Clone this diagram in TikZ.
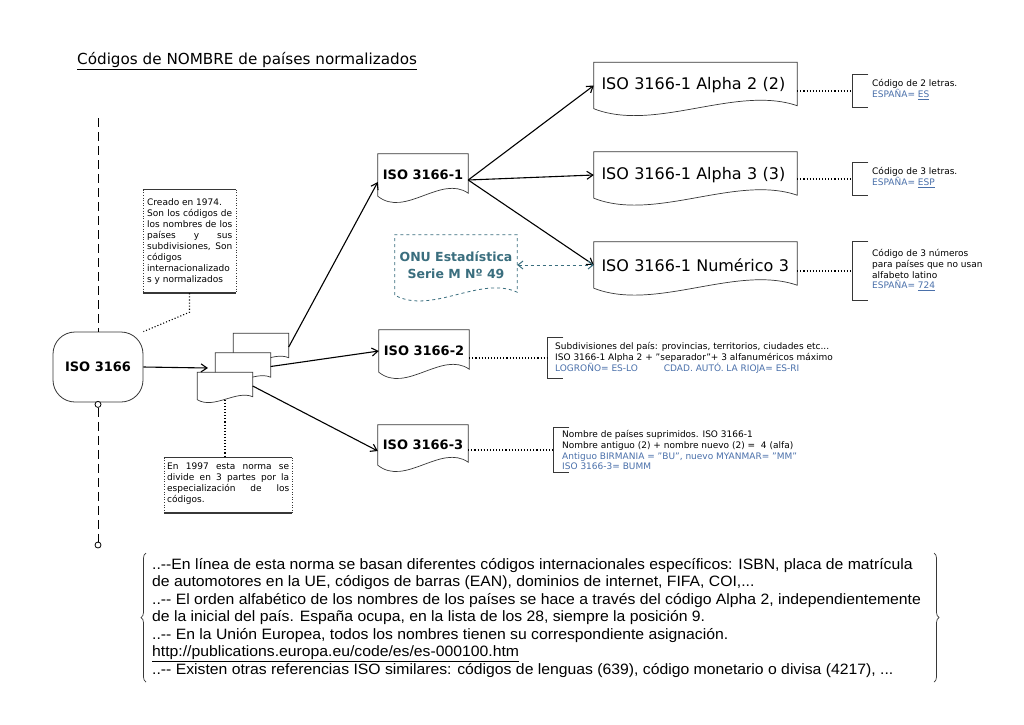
\documentclass[tikz,border=0pt]{standalone}
\usepackage{fontspec}
\setmainfont{DejaVu Sans}
\newfontfamily\bodyfont[FakeStretch=1.05]{Liberation Sans}
\usetikzlibrary{arrows.meta,calc,decorations.pathreplacing}
\definecolor{teal2}{RGB}{58,110,126}
\definecolor{linkblue}{RGB}{74,112,170}
\definecolor{edgegray}{RGB}{55,55,55}
\newcommand\docoutline[3]{%
  \draw[#2] (#1.south west) -- (#1.north west) -- (#1.north east) -- ($(#1.south east)+(0,-3)$)
    .. controls ($(#1.south east)!0.3!(#1.south west)+(0,-#3)$) and ($(#1.south east)!0.7!(#1.south west)+(0,#3)$) .. (#1.south west) -- cycle;}
\newcommand\jline[2]{\makebox[#1][s]{#2}}
\begin{document}
\begin{tikzpicture}[x=1pt,y=-1pt,
  docnode/.style={inner xsep=7.5pt, inner ysep=0pt, text width=188pt, align=left, minimum height=46pt, font=\fontsize{16}{18}\selectfont},
  isonode/.style={inner sep=0pt, minimum width=90pt, minimum height=42pt, font=\bfseries\fontsize{13}{15}\selectfont},
  stackdoc/.style={inner sep=0pt, minimum width=55pt, minimum height=27pt},
  conn/.style={line width=1.1pt, -{Straight Barb[length=6pt,width=8pt]}},
  outline/.style={draw=edgegray, line width=0.7pt},
  small/.style={font=\fontsize{9}{10.8}\selectfont, align=left, inner sep=0pt, anchor=north west},
  bracketnode/.style={minimum width=16pt, inner sep=0pt, anchor=west},
  bracketline/.style={draw=edgegray, line width=0.7pt},
  dotconn/.style={dotted, line width=1.1pt},
]
\useasboundingbox[fill=white] (0,0) rectangle (1024,724);

% title
\node[anchor=west, inner sep=0pt, font=\fontsize{15.2}{18}\selectfont] (title) at (77,61) {\underline{Códigos de NOMBRE de países normalizados}};

% main ISO 3166 node
\node[draw=edgegray, line width=0.8pt, rounded corners=22pt, minimum width=90pt, minimum height=70pt, inner sep=0pt, font=\bfseries\fontsize{13}{15}\selectfont] (iso) at (98,367) {ISO 3166};
\coordinate (topend) at (98,118);
\draw[line width=1pt, dash pattern=on 9pt off 5pt] (topend) -- (iso.north);
\node[circle, draw, line width=0.8pt, fill=white, minimum size=6pt, inner sep=0pt] (c1) at ([yshift=-2pt]iso.south) {};
\node[circle, draw, line width=0.8pt, fill=white, minimum size=6pt, inner sep=0pt] (c2) at (98,545) {};
\draw[line width=1pt, dash pattern=on 9pt off 5pt] (c1.south) -- (c2.north);

% stack of documents
\node[stackdoc] (b1) at (261,347) {};
\node[stackdoc] (b2) at (243,366.5) {};
\node[stackdoc] (b3) at (225,386) {};
\docoutline{b1}{outline, fill=white}{10}
\docoutline{b2}{outline, fill=white}{10}
\docoutline{b3}{outline, fill=white}{10}
\coordinate (stackin) at (208,368);
\draw[conn] (iso.east) -- (stackin);

% ISO 3166-x nodes
\node[isonode] (iso1) at (423,175) {ISO 3166-1};
\node[isonode] (iso2) at (424,351) {ISO 3166-2};
\node[isonode, minimum height=40pt] (iso3) at (423,445) {ISO 3166-3};
\docoutline{iso1}{outline}{22}
\docoutline{iso2}{outline}{22}
\docoutline{iso3}{outline}{22}

\draw[conn] (b1.east) -- ([yshift=-7pt]iso1.west);
\draw[conn] (b2.east) -- (iso2.west);
\draw[conn] (b3.east) -- ([yshift=-6pt]iso3.west);

% Alpha nodes
\node[docnode] (a2) at (695.5,85.5) {ISO 3166-1 Alpha 2 (2)};
\node[docnode] (a3) at (695.5,175) {ISO 3166-1 Alpha 3 (3)};
\node[docnode] (num) at (695.5,265) {ISO 3166-1 Numérico 3};
\docoutline{a2}{outline}{24}
\docoutline{a3}{outline}{24}
\docoutline{num}{outline}{24}
\draw[conn] ([yshift=-5pt]iso1.east) -- (a2.west);
\draw[conn] ([yshift=-5pt]iso1.east) -- (a3.west);
\draw[conn] ([yshift=-5pt]iso1.east) -- (num.west);

% ONU
\node[inner sep=0pt, minimum width=122pt, minimum height=60pt, align=center, text=teal2, font=\bfseries\fontsize{12.5}{17}\selectfont] (onu) at (456,265) {ONU Estadística\\Serie M Nº 49};
\docoutline{onu}{draw=teal2, line width=0.8pt, dashed}{20}
\draw[teal2, dashed, line width=1pt, {Straight Barb[length=5pt,width=8pt]}-{Straight Barb[length=5pt,width=8pt]}] (onu.east) -- (num.west);

% brackets and annotations
\node[bracketnode, minimum height=32pt] (br1) at (852,91) {};
\node[bracketnode, minimum height=32pt] (br2) at (852,179) {};
\node[bracketnode, minimum height=58pt] (br3) at (852,271) {};
\node[bracketnode, minimum height=40pt] (br4) at (547,358) {};
\node[bracketnode, minimum height=44pt] (br5) at (553,450) {};
\foreach \b in {br1,br2,br3,br4,br5}{
  \draw[bracketline] (\b.north east) -- (\b.north west) -- (\b.south west) -- (\b.south east);
}
\draw[dotconn] (a2.east |- br1.west) -- (br1.west);
\draw[dotconn] (a3.east |- br2.west) -- (br2.west);
\draw[dotconn] (num.east |- br3.west) -- (br3.west);
\draw[dotconn] (iso2.east |- br4.west) -- (br4.west);
\draw[dotconn] (iso3.east |- br5.west) -- (br5.west);

\node[small] (t1) at (872,79) {Código de 2 letras.\\\textcolor{linkblue}{ESPAÑA= \underline{ES}}};
\node[small] (t2) at (872,167) {Código de 3 letras.\\\textcolor{linkblue}{ESPAÑA= \underline{ESP}}};
\node[small] (t3) at (872,249) {Código de 3 números\\para países que no usan\\alfabeto latino\\\textcolor{linkblue}{ESPAÑA= \underline{724}}};
\node[small] (t4) at (555,342) {Subdivisiones del país: provincias, territorios, ciudades etc...\\ISO 3166-1 Alpha 2 + "separador"+ 3 alfanuméricos máximo\\\textcolor{linkblue}{LOGROÑO= ES-LO\hspace{26pt}CDAD. AUTÓ. LA RIOJA= ES-RI}};
\node[small] (t5) at (562,430) {Nombre de países suprimidos. ISO 3166-1\\Nombre antiguo (2) + nombre nuevo (2) =\ \ 4 (alfa)\\\textcolor{linkblue}{Antiguo BIRMANIA = "BU", nuevo MYANMAR= "MM"}\\\textcolor{linkblue}{ISO 3166-3= BUMM}};

% note 1
\node[inner sep=0pt, minimum width=93pt, minimum height=103pt] (n1box) at (189.5,241.5) {};
\draw[edgegray, line width=0.8pt] (n1box.north west) -- (n1box.north east);
\draw[edgegray, line width=1.8pt] (n1box.south west) -- (n1box.south east);
\draw[edgegray, dotted, line width=0.6pt] (n1box.north west) -- (n1box.south west) (n1box.north east) -- (n1box.south east);
\node[small, font=\fontsize{9}{11}\selectfont] (n1) at (147,198) {Creado en 1974.\\\jline{85pt}{Son los códigos de}\\\jline{85pt}{los nombres de los}\\\jline{85pt}{países y sus}\\\jline{85pt}{subdivisiones, Son}\\códigos\\internacionalizado\\s y normalizados};
\draw[dotconn] (n1box.south) -- ++(0,19) -- (iso.north east);

% note 2
\node[inner sep=0pt, minimum width=128pt, minimum height=55pt] (n2box) at (228,485.5) {};
\draw[edgegray, line width=0.8pt] (n2box.north west) -- (n2box.north east);
\draw[edgegray, line width=1.8pt] (n2box.south west) -- (n2box.south east);
\draw[edgegray, dotted, line width=0.6pt] (n2box.north west) -- (n2box.south west) (n2box.north east) -- (n2box.south east);
\node[small, font=\fontsize{9}{11}\selectfont] (n2) at (167,463) {\jline{122pt}{En 1997 esta norma se}\\\jline{122pt}{divide en 3 partes por la}\\\jline{122pt}{especialización de los}\\códigos.};
\draw[dotconn] (b3.south) -- (b3.south |- n2box.north);

% bottom notes
\node[anchor=north west, inner sep=0pt, align=left, font=\bodyfont\fontsize{15}{17.5}\selectfont] (notes) at (152,558) {%
..-{}-En línea de esta norma se basan diferentes códigos internacionales específicos: ISBN, placa de matrícula\\
de automotores en la UE, códigos de barras (EAN), dominios de internet, FIFA, COI,...\\
..-{}- El orden alfabético de los nombres de los países se hace a través del código Alpha 2, independientemente\\
de la inicial del país. España ocupa, en la lista de los 28, siempre la posición 9.\\
..-{}- En la Unión Europea, todos los nombres tienen su correspondiente asignación.\\
\underline{http://publications.europa.eu/code/es/es-000100.htm}\\
..-{}- Existen otras referencias ISO similares: códigos de lenguas (639), código monetario o divisa (4217), ...};
\coordinate (lbtop) at (146,553);
\coordinate (lbbot) at (146,682);
\coordinate (rbtop) at (934,553);
\coordinate (rbbot) at (934,682);
\draw[edgegray, line width=0.7pt, decorate, decoration={brace, amplitude=5pt}] (lbbot) -- (lbtop);
\draw[edgegray, line width=0.7pt, decorate, decoration={brace, amplitude=5pt}] (rbtop) -- (rbbot);
\end{tikzpicture}
\end{document}
